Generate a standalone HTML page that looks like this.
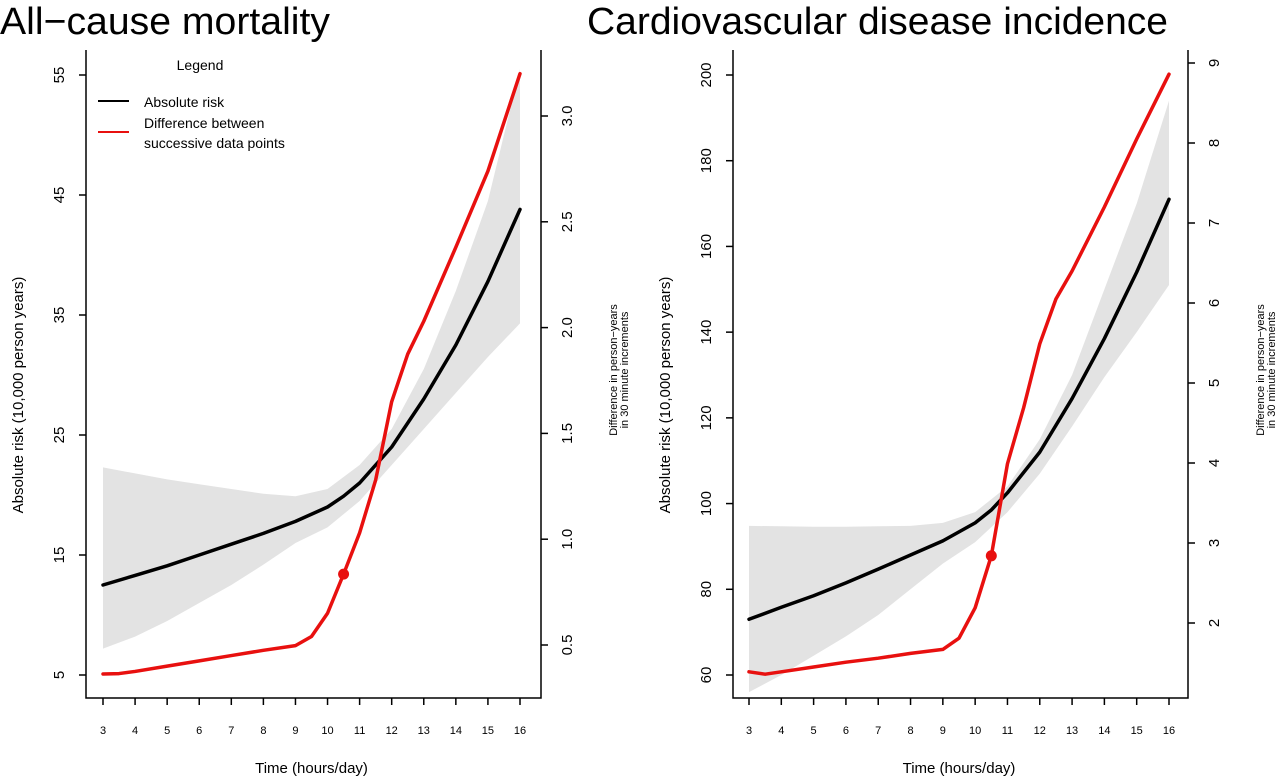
<!DOCTYPE html>
<html><head><meta charset="utf-8"><style>
html,body{margin:0;padding:0;background:#fff}
svg{display:block;font-family:"Liberation Sans",Arial,sans-serif}
</style></head><body>
<svg id="chart" width="1280" height="781" viewBox="0 0 1280 781" xmlns="http://www.w3.org/2000/svg"></svg>
<script>
// Shared x data
const hoursMain = [3,4,5,6,7,8,9,10,10.5,11,12,13,14,15,16];
const hoursCI = [3,4,5,6,7,8,9,10,11,12,13,14,15,16];
const hoursDiff = [3,3.5,4,5,6,7,8,9,9.5,10,10.5,11,11.5,12,12.5,13,14,15,16];
const xTicks = [3,4,5,6,7,8,9,10,11,12,13,14,15,16];
// Panel 1: all-cause mortality
const mortRisk = [12.5,13.3,14.1,15.0,15.9,16.8,17.8,19.0,19.9,21.0,24.0,28.0,32.5,37.8,43.8];
const mortUpper = [22.3,21.8,21.3,20.9,20.5,20.1,19.9,20.5,22.5,25.5,30.5,37.0,44.5,55.5];
const mortLower = [7.2,8.2,9.5,11.0,12.5,14.2,16.0,17.3,19.5,22.5,25.5,28.5,31.5,34.3];
const mortDiff = [0.363,0.365,0.375,0.40,0.425,0.45,0.475,0.497,0.54,0.65,0.835,1.03,1.28,1.65,1.875,2.03,2.38,2.74,3.2];
const mortLeftTicks = [5,15,25,35,45,55];
const mortRightTicks = ["0.5","1.0","1.5","2.0","2.5","3.0"];
// Panel 2: CVD incidence
const cvdRisk = [73,75.8,78.5,81.5,84.7,88,91.3,95.5,98.5,102.5,112,124.5,138.5,154,171];
const cvdUpper = [94.8,94.7,94.6,94.6,94.7,94.8,95.5,98,104,115,130,150,170,194];
const cvdLower = [56,60,64.5,69,74,80,86,91,98,107,118,129.5,140,151];
const cvdDiff = [1.39,1.36,1.39,1.45,1.51,1.56,1.62,1.67,1.81,2.19,2.84,3.99,4.69,5.49,6.05,6.4,7.2,8.05,8.86];
const cvdLeftTicks = [60,80,100,120,140,160,180,200];
const cvdRightTicks = ["2","3","4","5","6","7","8","9"];
const markerHour = 10.5;

const svg = document.getElementById('chart');
const NS = 'http://www.w3.org/2000/svg';
function mk(tag, attrs, parent){const e=document.createElementNS(NS,tag);for(const k in attrs)e.setAttribute(k,attrs[k]);(parent||svg).appendChild(e);return e;}
function txt(s, attrs, parent){const e=mk('text',attrs,parent);e.textContent=s;return e;}

function panel(cfg){
  const g = mk('g',{});
  
  
  const X = h => cfg.x3 + (h-3)*(cfg.x16-cfg.x3)/13;
  const YL = v => cfg.yl0 + (v-cfg.lv0)*(cfg.yl1-cfg.yl0)/(cfg.lv1-cfg.lv0);
  const YR = v => cfg.yr0 + (v-cfg.rv0)*(cfg.yr1-cfg.yr0)/(cfg.rv1-cfg.rv0);
  const t = txt(cfg.title,{x:cfg.titleX,y:34,'font-size':38,fill:'#000',textLength:cfg.titleW,lengthAdjust:'spacingAndGlyphs'},g);
  
  
  let d='';
  cfg.upper.forEach((v,i)=>{d+=(i?'L':'M')+X(hoursCI[i]).toFixed(1)+','+YL(v).toFixed(1);});
  for(let i=cfg.lower.length-1;i>=0;i--) d+='L'+X(hoursCI[i]).toFixed(1)+','+YL(cfg.lower[i]).toFixed(1);
  const band = mk('path',{d:d+'Z',fill:'#e3e3e3',stroke:'none'},g);
  
  
  const rl = mk('polyline',{points:cfg.risk.map((v,i)=>X(hoursMain[i])+','+YL(v)).join(' '),fill:'none',stroke:'#000','stroke-width':3.5,'stroke-linejoin':'round','stroke-linecap':'round'},g);
  
  
  const dl = mk('polyline',{points:cfg.diff.map((v,i)=>X(hoursDiff[i])+','+YR(v)).join(' '),fill:'none',stroke:'#e8100f','stroke-width':3.5,'stroke-linejoin':'round','stroke-linecap':'round'},g);
  
  
  const mi = hoursDiff.indexOf(markerHour);
  const dot = mk('circle',{cx:X(markerHour),cy:YR(cfg.diff[mi]),r:5.5,fill:'#e8100f'},g);
  
  
  const ax = mk('path',{d:`M${cfg.boxL},${cfg.top}V${cfg.bottom}H${cfg.boxR}V${cfg.top}`,fill:'none',stroke:'#000','stroke-width':1.5},g);
  
  
  xTicks.forEach(h=>{
    mk('line',{x1:X(h),x2:X(h),y1:cfg.bottom,y2:cfg.bottom+7,stroke:'#000','stroke-width':1.5},g);
    const l = txt(String(h),{x:X(h),y:734,'font-size':11,'text-anchor':'middle'},g);
    
    
  });
  const xt = txt('Time (hours/day)',{x:(X(3)+X(16))/2,y:773,'font-size':15,'text-anchor':'middle'},g);
  
  
  cfg.leftTicks.forEach(v=>{
    const y=YL(v);
    mk('line',{x1:cfg.boxL-7,x2:cfg.boxL,y1:y,y2:y,stroke:'#000','stroke-width':1.5},g);
    const l = txt(String(v),{x:0,y:0,'font-size':15,'text-anchor':'middle',transform:`translate(${cfg.boxL-22},${y}) rotate(-90)`},g);
    
    
  });
  const yt = txt('Absolute risk (10,000 person years)',{x:0,y:0,'font-size':15,'text-anchor':'middle',transform:`translate(${cfg.boxL-63},395) rotate(-90)`},g);
  
  
  cfg.rightTicks.forEach(s=>{
    const y=YR(parseFloat(s));
    mk('line',{x1:cfg.boxR,x2:cfg.boxR+7,y1:y,y2:y,stroke:'#000','stroke-width':1.5},g);
    const l = txt(s,{x:0,y:0,'font-size':15,'text-anchor':'middle',transform:`translate(${cfg.boxR+31},${y}) rotate(-90)`},g);
    
    
  });
  const rt = txt('',{x:0,y:0,'font-size':11,'text-anchor':'middle',transform:`translate(${cfg.boxR+76},370) rotate(-90)`},g);
  
  
  const s1=mk('tspan',{x:0,dy:0},rt); s1.textContent='Difference in person\u2212years';
  const s2=mk('tspan',{x:0,dy:11},rt); s2.textContent='in 30 minute increments';
}

panel({name:'all-cause-mortality-panel',title:'All\u2212cause mortality',titleX:0,titleW:330,
  x3:103,x16:520,boxL:86,boxR:541,top:50,bottom:698,
  yl0:675,lv0:5,yl1:75,lv1:55,yr0:645,rv0:0.5,yr1:116,rv1:3.0,
  risk:mortRisk,upper:mortUpper,lower:mortLower,diff:mortDiff,
  leftTicks:mortLeftTicks,rightTicks:mortRightTicks});
panel({name:'cvd-incidence-panel',title:'Cardiovascular disease incidence',titleX:587,titleW:581,
  x3:749,x16:1169,boxL:733,boxR:1188,top:50,bottom:698,
  yl0:675,lv0:60,yl1:75,lv1:200,yr0:623,rv0:2,yr1:63,rv1:9,
  risk:cvdRisk,upper:cvdUpper,lower:cvdLower,diff:cvdDiff,
  leftTicks:cvdLeftTicks,rightTicks:cvdRightTicks});

const lg = mk('g',{});


txt('Legend',{x:200,y:70,'font-size':14,'text-anchor':'middle'},lg);
mk('line',{x1:98,x2:129,y1:101,y2:101,stroke:'#000','stroke-width':2},lg);
mk('line',{x1:98,x2:129,y1:132,y2:132,stroke:'#e8100f','stroke-width':2},lg);
const e1 = txt('Absolute risk',{x:144,y:107,'font-size':14},lg);


const e2 = txt('Difference between',{x:144,y:128,'font-size':14},lg);


txt('successive data points',{x:144,y:148,'font-size':14},lg);
</script>
</body></html>
